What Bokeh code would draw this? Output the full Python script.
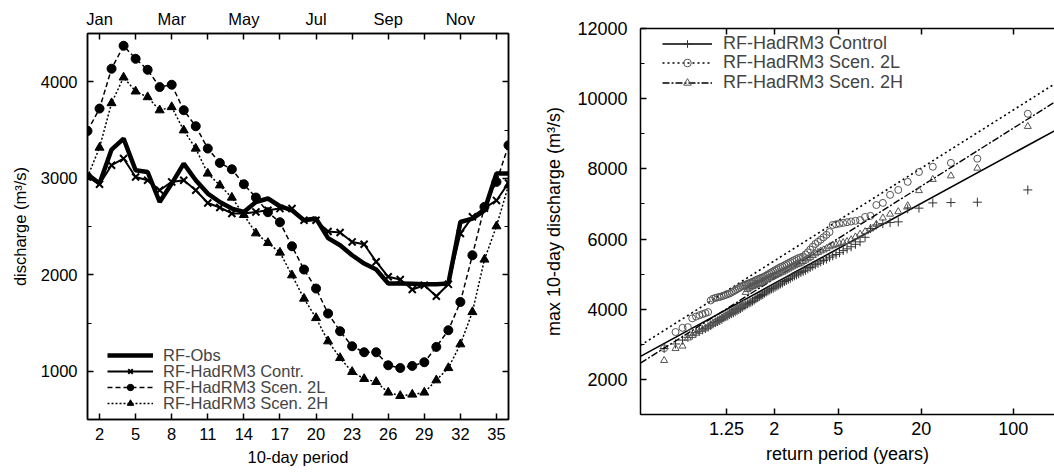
import math
from bokeh.plotting import figure
from bokeh.layouts import row
from bokeh.models import FixedTicker, LinearAxis, Legend, LegendItem, Range1d
from bokeh.embed import file_html
from bokeh.resources import INLINE

# ---------------- left panel data: mean 10-day discharge ----------------
periods = list(range(1, 37))
obs = [3040, 2945, 3297, 3411, 3083, 3065, 2754, 2945, 3152, 2979, 2841, 2754,
       2686, 2651, 2754, 2790, 2710, 2668, 2565, 2582, 2380, 2306, 2202, 2116,
       2054, 1909, 1909, 1907, 1902, 1902, 1909, 2547, 2582, 2668, 3049, 3049]
contr = [3013, 2938, 3135, 3204, 3013, 2979, 2876, 2962, 2979, 2876, 2744, 2697,
         2635, 2635, 2651, 2668, 2686, 2686, 2565, 2565, 2448, 2438, 2340, 2316,
         2135, 1979, 1950, 1847, 1891, 1777, 1901, 2427, 2600, 2690, 2770, 2950]
scen2l = [3490, 3722, 4135, 4373, 4238, 4124, 3945, 3969, 3705, 3539, 3308, 3159,
          3093, 2938, 2800, 2648, 2544, 2295, 2054, 1857, 1598, 1415, 1259, 1197,
          1197, 1062, 1034, 1055, 1093, 1252, 1425, 1718, 2202, 2703, 2962, 3342]
scen2h = [3013, 3318, 3779, 4045, 3900, 3841, 3705, 3738, 3497, 3308, 3049, 2927,
          2800, 2620, 2430, 2330, 2230, 1995, 1753, 1552, 1311, 1138, 994, 921,
          890, 780, 745, 759, 780, 907, 1034, 1280, 1614, 2158, 2503, 2927]
period_ticks = list(range(2, 36, 3))
month_ticks = [2, 8, 14, 20, 26, 32]
month_names = ["Jan", "Mar", "May", "Jul", "Sep", "Nov"]
left_y_ticks = [1000, 2000, 3000, 4000]
left_y_minor = [500, 1500, 2500, 3500, 4500]

# ---------------- right panel data: annual max 10-day discharge (sorted) ----------------
ctrl_q = [2880, 3010, 3120, 3200, 3260, 3330, 3370, 3410, 3450, 3490,
          3540, 3580, 3620, 3650, 3680, 3710, 3760, 3790, 3810, 3850,
          3880, 3900, 3930, 3960, 3990, 4020, 4050, 4090, 4120, 4150,
          4180, 4200, 4230, 4260, 4300, 4330, 4360, 4390, 4420, 4460,
          4490, 4520, 4550, 4580, 4600, 4630, 4660, 4690, 4720, 4750,
          4790, 4820, 4850, 4880, 4920, 4950, 4980, 5010, 5050, 5080,
          5110, 5150, 5190, 5230, 5270, 5310, 5350, 5390, 5430, 5480,
          5520, 5560, 5610, 5670, 5720, 5780, 5850, 5920, 6050, 6300,
          6400, 6440, 6470, 6490, 6860, 6880, 7030, 7040, 7050, 7400]
s2l_q = [2890, 3350, 3470, 3490, 3740, 3790, 3830, 3860, 3890, 3920,
         4250, 4300, 4320, 4340, 4350, 4370, 4390, 4410, 4430, 4450,
         4480, 4510, 4540, 4570, 4600, 4630, 4660, 4680, 4700, 4720,
         4740, 4760, 4780, 4800, 4830, 4850, 4870, 4890, 4910, 4930,
         4960, 4990, 5020, 5050, 5080, 5110, 5140, 5170, 5200, 5220,
         5250, 5280, 5310, 5340, 5370, 5400, 5430, 5460, 5480, 5500,
         5560, 5620, 5700, 5780, 5860, 5920, 5980, 6050, 6120, 6200,
         6400, 6420, 6440, 6460, 6480, 6500, 6520, 6540, 6630, 6660,
         6970, 7030, 7260, 7400, 7630, 7910, 8060, 8170, 8290, 9570]
s2h_q = [2540, 2880, 2950, 3180, 3250, 3320, 3370, 3420, 3460, 3500,
         3560, 3600, 3640, 3680, 3710, 3750, 3790, 3820, 3850, 3890,
         3920, 3950, 3990, 4020, 4060, 4090, 4120, 4160, 4480, 4560,
         4600, 4630, 4650, 4670, 4690, 4710, 4730, 4750, 4780, 4810,
         4840, 4860, 4890, 4910, 4940, 4960, 4990, 5010, 5040, 5060,
         5090, 5120, 5150, 5180, 5210, 5240, 5270, 5290, 5320, 5360,
         5400, 5440, 5480, 5530, 5580, 5620, 5660, 5690, 5730, 5780,
         5810, 5840, 5870, 5900, 5930, 5980, 6060, 6140, 6210, 6290,
         6420, 6600, 6710, 6780, 6950, 7380, 7700, 7800, 8020, 9210]
# Gumbel fits: location u, scale alpha  (Q = u + alpha * reduced variate)
fit_ctrl = (4411, 877)
fit_2l = (5003, 1016)
fit_2h = (4494, 1014)
return_period_ticks = [1.25, 2, 5, 20, 100]
right_y_ticks = [2000, 4000, 6000, 8000, 10000, 12000]
right_y_minor = [1000, 3000, 5000, 7000, 9000, 11000]


def reduced_variate(T):
    return -math.log(-math.log(1.0 - 1.0 / T))


def plotting_positions(n):
    return [-math.log(-math.log((i - 0.3) / (n + 0.4))) for i in range(1, n + 1)]


FONT = "Liberation Sans"


def style_axis(ax, size, minor_len=4):
    ax.axis_line_width = 1.5
    ax.axis_line_color = "black"
    ax.major_tick_in = 6
    ax.major_tick_out = 0
    ax.major_tick_line_width = 1.5
    ax.minor_tick_in = minor_len
    ax.minor_tick_out = 0
    ax.minor_tick_line_width = 1.2
    ax.major_label_text_font = FONT
    ax.major_label_text_font_size = size
    ax.major_label_text_color = "black"
    ax.axis_label_text_font = FONT
    ax.axis_label_text_font_size = size
    ax.axis_label_text_font_style = "normal"
    ax.axis_label_text_color = "black"


def hide_labels(ax):
    ax.major_label_text_color = None
    ax.major_label_text_alpha = 0
    ax.major_label_text_font_size = "1px"
    ax.major_label_standoff = 0


def single_legend(label, renderers, loc, size, gw, gh, standoff):
    return Legend(items=[LegendItem(label=label, renderers=renderers)], location=loc,
                  glyph_width=gw, glyph_height=gh, label_height=gh, spacing=0,
                  padding=0, margin=0, label_standoff=standoff, border_line_color=None,
                  background_fill_alpha=0, label_text_font=FONT, label_text_font_size=size)


# both panels share top/bottom borders (row aligns frames); right panel is lifted 5px
TOP, BOTTOM, H = 33, 54, 473

# ---------------- left figure ----------------
L_LEFT, L_RIGHT = 87, 22
p1 = figure(width=530, height=H, x_range=Range1d(1, 36), y_range=Range1d(500, 4500),
            output_backend="svg", toolbar_location=None,
            min_border_left=L_LEFT, min_border_right=L_RIGHT,
            min_border_top=TOP, min_border_bottom=BOTTOM)
p1.xgrid.visible = False
p1.ygrid.visible = False
p1.outline_line_color = "black"
p1.outline_line_width = 1.5
p1.outline_line_alpha = 1

LS = "16.5px"
p1.xaxis.ticker = FixedTicker(ticks=period_ticks)
p1.yaxis.ticker = FixedTicker(ticks=left_y_ticks, minor_ticks=left_y_minor)
p1.xaxis.axis_label = "10-day period"
p1.yaxis.axis_label = "discharge (m³/s)"
for ax in p1.xaxis + p1.yaxis:
    style_axis(ax, LS)
p1.xaxis.major_label_standoff = 8
p1.xaxis.axis_label_standoff = 5
p1.yaxis.major_label_standoff = 10
p1.yaxis.axis_label_standoff = 9

top1 = LinearAxis(ticker=FixedTicker(ticks=month_ticks,
                                     minor_ticks=[t for t in period_ticks if t not in month_ticks]),
                  major_label_overrides=dict(zip(month_ticks, month_names)))
style_axis(top1, LS, minor_len=6)
top1.minor_tick_line_width = 1.5
top1.major_label_standoff = 6
p1.add_layout(top1, "above")
right1 = LinearAxis(ticker=FixedTicker(ticks=left_y_ticks, minor_ticks=left_y_minor))
style_axis(right1, LS)
hide_labels(right1)
p1.add_layout(right1, "right")

r_obs = p1.line(periods, obs, line_color="black", line_width=4.5)
r_con_l = p1.line(periods, contr, line_color="black", line_width=2)
r_con_m = p1.scatter(periods, contr, marker="x", size=10, line_color="black", line_width=2)
r_2l_l = p1.line(periods, scen2l, line_color="black", line_width=1.5, line_dash="5 3")
r_2l_m = p1.scatter(periods, scen2l, marker="circle", size=9, fill_color="black", line_color="black")
r_2h_l = p1.line(periods, scen2h, line_color="black", line_width=1.5, line_dash="2 2")
r_2h_m = p1.scatter(periods, scen2h, marker="triangle", size=9, fill_color="black", line_color="black")

left_legend_rows = [("RF-Obs", [r_obs], 64), ("RF-HadRM3 Contr.", [r_con_l, r_con_m], 48),
                    ("RF-HadRM3 Scen. 2L", [r_2l_l, r_2l_m], 32),
                    ("RF-HadRM3 Scen. 2H", [r_2h_l, r_2h_m], 16)]
for lab, rends, c in left_legend_rows:
    p1.add_layout(single_legend(lab, rends, (20, c - 9.5), LS, 46, 16, 10))

# ---------------- right figure ----------------
RS = "18px"
xr = (-2.0, 5.33)
R_LEFT = 110
p2 = figure(width=524, height=H, x_range=Range1d(*xr), y_range=Range1d(1000, 12000),
            output_backend="svg", toolbar_location=None,
            min_border_left=R_LEFT, min_border_right=0,
            min_border_top=TOP, min_border_bottom=BOTTOM)
p2.margin = (-5, 0, 0, 0)
p2.xgrid.visible = False
p2.ygrid.visible = False
p2.outline_line_color = None

rv_ticks = [reduced_variate(T) for T in return_period_ticks]
rv_labels = {v: (str(T) if T != int(T) else str(int(T))) for v, T in zip(rv_ticks, return_period_ticks)}
p2.xaxis.ticker = FixedTicker(ticks=rv_ticks)
p2.xaxis.major_label_overrides = rv_labels
p2.yaxis.ticker = FixedTicker(ticks=right_y_ticks, minor_ticks=right_y_minor)
p2.xaxis.axis_label = "return period (years)"
p2.yaxis.axis_label = "max 10-day discharge (m³/s)"
for ax in p2.xaxis + p2.yaxis:
    style_axis(ax, RS)
p2.xaxis.major_label_standoff = 7
p2.xaxis.axis_label_standoff = 6
p2.yaxis.major_label_standoff = 13
p2.yaxis.axis_label_standoff = 10

top2 = LinearAxis(ticker=FixedTicker(ticks=rv_ticks))
style_axis(top2, RS)
hide_labels(top2)
p2.add_layout(top2, "above")

xs = plotting_positions(len(ctrl_q))
fx = [xr[0], xr[1]]


def fit_line(par):
    return [par[0] + par[1] * v for v in fx]


r_c_l = p2.line(fx, fit_line(fit_ctrl), line_color="black", line_width=1.6)
r_c_m = p2.scatter(xs, ctrl_q, marker="cross", size=9, line_color="#333333", line_width=1)
r_l_l = p2.line(fx, fit_line(fit_2l), line_color="black", line_width=1.6, line_dash="2 3")
r_l_m = p2.scatter(xs, s2l_q, marker="circle", size=7, fill_color=None, line_color="#555555", line_width=1)
r_h_l = p2.line(fx, fit_line(fit_2h), line_color="black", line_width=1.4, line_dash="7 2 2 2")
r_h_m = p2.scatter(xs, s2h_q, marker="triangle", size=7, fill_color=None, line_color="#555555", line_width=1)

frame_h = H - TOP - BOTTOM
right_legend_rows = [("RF-HadRM3 Control", [r_c_l, r_c_m], 15),
                     ("RF-HadRM3 Scen. 2L", [r_l_l, r_l_m], 34.5),
                     ("RF-HadRM3 Scen. 2H", [r_h_l, r_h_m], 54)]
for lab, rends, c in right_legend_rows:
    p2.add_layout(single_legend(lab, rends, (22, frame_h - c - 10.5), RS, 50, 19, 11))

layout = row(p1, p2)
open("out.html", "w").write(file_html(layout, INLINE))
